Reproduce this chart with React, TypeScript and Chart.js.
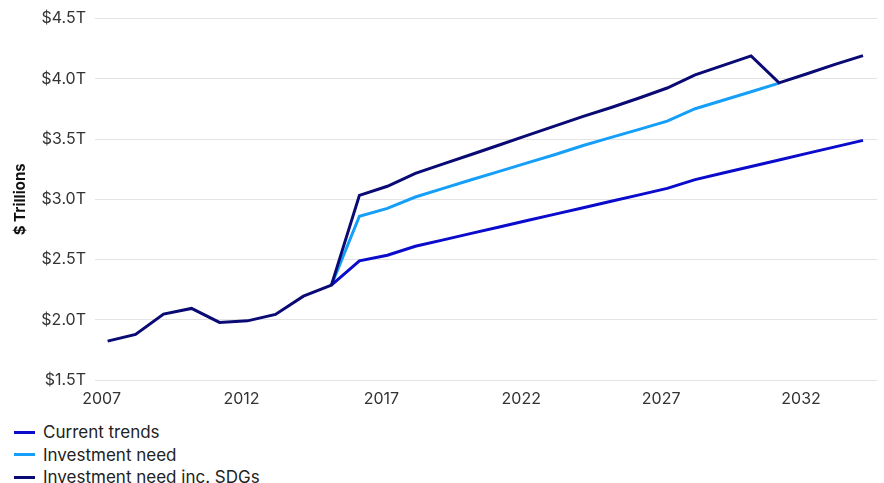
import React, { useEffect, useRef } from "react";
import { Chart, registerables } from "chart.js";

Chart.register(...registerables);

const years = [
  2007, 2008, 2009, 2010, 2011, 2012, 2013, 2014, 2015, 2016, 2017, 2018, 2019, 2020,
  2021, 2022, 2023, 2024, 2025, 2026, 2027, 2028, 2029, 2030, 2031, 2032, 2033, 2034,
];

const currentTrends = [
  null, null, null, null, null, null, null, null, 2.287, 2.489, 2.536, 2.61, 2.663, 2.717,
  2.77, 2.824, 2.877, 2.93, 2.984, 3.037, 3.091, 3.163, 3.218, 3.272, 3.326, 3.381, 3.435, 3.489,
];

const investmentNeed = [
  null, null, null, null, null, null, null, null, 2.287, 2.859, 2.925, 3.019, 3.091, 3.162,
  3.232, 3.302, 3.372, 3.447, 3.514, 3.58, 3.649, 3.752, 3.822, 3.893, 3.964, null, null, null,
];

const investmentNeedSDGs = [
  1.823, 1.879, 2.047, 2.094, 1.978, 1.991, 2.044, 2.196, 2.287, 3.033, 3.108, 3.215, 3.294, 3.372,
  3.451, 3.53, 3.609, 3.688, 3.762, 3.841, 3.924, 4.033, 4.112, 4.19, 3.967, 4.042, 4.12, 4.193,
];

const xTickYears = [2007, 2012, 2017, 2022, 2027, 2032];
const yTicks = [1.5, 2.0, 2.5, 3.0, 3.5, 4.0, 4.5];

const seriesNames = ["Current trends", "Investment need", "Investment need inc. SDGs"];
const seriesColors = ["#0b0bcc", "#159ff8", "#0a0a74"];

const FONT = "Inter, 'Open Sans', sans-serif";

export default function App() {
  const canvasRef = useRef<HTMLCanvasElement | null>(null);

  useEffect(() => {
    const canvas = canvasRef.current;
    if (!canvas) return;
    const seriesData = [currentTrends, investmentNeed, investmentNeedSDGs];
    const chart = new Chart(canvas, {
      type: "line",
      data: {
        datasets: seriesData.map((arr, i) => ({
          label: seriesNames[i],
          data: years.map((y, j) => ({ x: y, y: arr[j] as any })),
          borderColor: seriesColors[i],
          backgroundColor: seriesColors[i],
          borderWidth: 3,
          pointRadius: 0,
          pointHoverRadius: 0,
          tension: 0,
          fill: false,
          spanGaps: false,
          order: i === 2 ? 0 : i + 1,
        })),
      },
      options: {
        responsive: false,
        animation: false,
        layout: { padding: { top: 18, right: 7, left: 0, bottom: 0 } },
        plugins: {
          legend: { display: false },
          tooltip: { enabled: false },
        },
        scales: {
          x: {
            type: "linear",
            min: 2006.55,
            max: 2034.5,
            afterBuildTicks: (scale: any) => {
              scale.ticks = xTickYears.map((v) => ({ value: v }));
            },
            afterFit: (scale: any) => {
              scale.height = 32;
            },
            grid: { display: false, drawTicks: false },
            border: { display: false },
            ticks: {
              autoSkip: false,
              maxRotation: 0,
              padding: 10,
              labelOffset: -6,
              color: "#333333",
              font: { family: FONT, size: 16 },
              callback: (v: any) => String(v),
            },
          },
          y: {
            type: "linear",
            min: 1.5,
            max: 4.5,
            afterBuildTicks: (scale: any) => {
              scale.ticks = yTicks.map((v) => ({ value: v }));
            },
            afterFit: (scale: any) => {
              scale.width = 95;
            },
            grid: { color: "#e3e3e3", lineWidth: 1, drawTicks: false },
            border: { display: false },
            ticks: {
              padding: 9,
              color: "#333333",
              font: { family: FONT, size: 16 },
              callback: (v: any) => "$" + Number(v).toFixed(1) + "T",
            },
            title: {
              display: true,
              text: "$ Trillions",
              color: "#111111",
              font: { family: FONT, size: 15, weight: "bold" },
              padding: { top: 11, bottom: 0 },
            },
          },
        },
      },
    });
    return () => chart.destroy();
  }, []);

  const legendCenters = [432, 454.5, 477];

  return (
    <div style={{ position: "absolute", left: 0, top: 0, width: 884, height: 483, background: "#fff" }}>
      <canvas
        ref={canvasRef}
        width={884}
        height={412}
        style={{ position: "absolute", left: 0, top: 0, display: "block" }}
      />
      {seriesNames.map((name, i) => (
        <div
          key={name}
          style={{
            position: "absolute",
            left: 0,
            top: legendCenters[i] - 11,
            height: 22,
            width: 400,
            fontFamily: FONT,
            fontSize: 17,
            color: "#222222",
          }}
        >
          <div
            style={{
              position: "absolute",
              left: 14,
              top: 9.5,
              width: 21,
              height: 3,
              background: seriesColors[i],
            }}
          />
          <div style={{ position: "absolute", left: 43, top: 0, lineHeight: "22px", whiteSpace: "nowrap" }}>
            {name}
          </div>
        </div>
      ))}
    </div>
  );
}
